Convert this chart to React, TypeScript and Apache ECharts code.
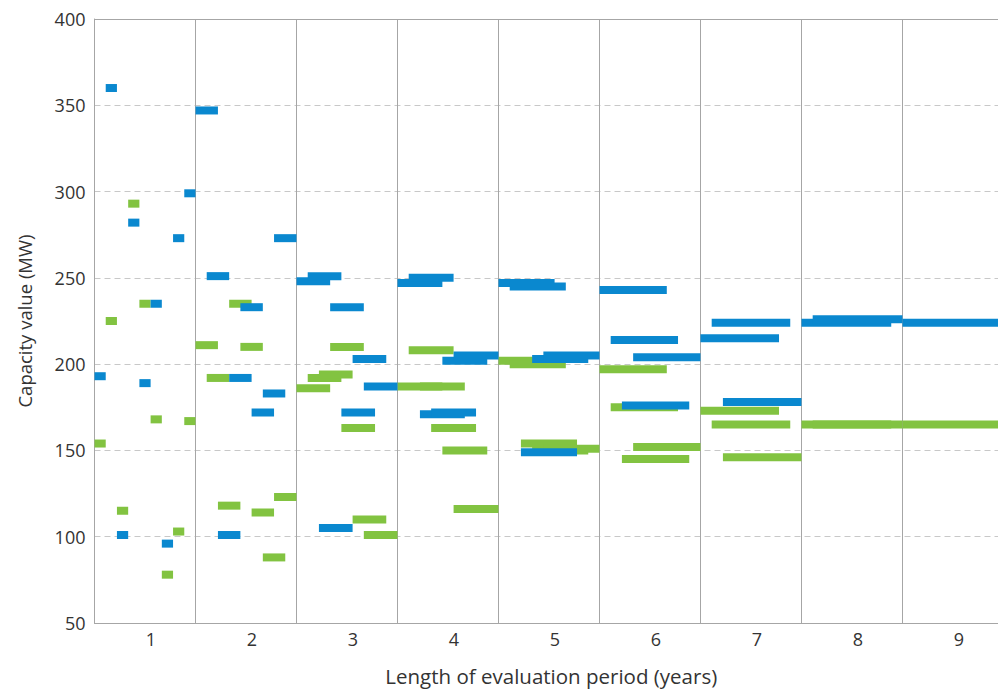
import React, { useEffect, useRef } from "react";
import * as echarts from "echarts";

const periodLabels = ["1", "2", "3", "4", "5", "6", "7", "8", "9"];
const yTicks = { min: 50, max: 400, interval: 50 };

// Blue series: one array per evaluation-period length, windows in order
const blue1 = [193, 360, 101, 282, 189, 235, 96, 273, 299];
const blue2 = [347, 251, 101, 192, 233, 172, 183, 273];
const blue3 = [248, 251, 105, 233, 172, 203, 187];
const blue4 = [247, 250, 171, 172, 202, 205];
const blue5 = [247, 245, 149, 203, 205];
const blue6 = [243, 214, 176, 204];
const blue7 = [215, 224, 178];
const blue8 = [224, 226];
const blue9 = [224];

// Green series
const green1 = [154, 225, 115, 293, 235, 168, 78, 103, 167];
const green2 = [211, 192, 118, 235, 210, 114, 88, 123];
const green3 = [186, 192, 194, 210, 163, 110, 101];
const green4 = [187, 208, 187, 163, 150, 116];
const green5 = [202, 200, 154, 150, 151];
const green6 = [197, 175, 145, 152];
const green7 = [173, 165, 146];
const green8 = [165, 165];
const green9 = [165];

const blueRows = [blue1, blue2, blue3, blue4, blue5, blue6, blue7, blue8, blue9];
const greenRows = [green1, green2, green3, green4, green5, green6, green7, green8, green9];

const TOTAL_YEARS = 9;
// the original figure is cropped slightly before the end of the 9th column
const X_VISIBLE_MAX = 8.946;

function buildSegments(rows: number[][]) {
  const out: number[][] = [];
  rows.forEach((vals, idx) => {
    const len = idx + 1;
    vals.forEach((v, i) => {
      const x0 = idx + i / TOTAL_YEARS;
      out.push([x0, x0 + len / TOTAL_YEARS, v]);
    });
  });
  return out;
}

const FONT = "'Open Sans', 'Noto Sans', sans-serif";
const TEXT = "#333333";
const LINE = "#a6a6a6";

function segSeries(name: string, rows: number[][], color: string) {
  return {
    type: "custom",
    name,
    xAxisIndex: 0,
    yAxisIndex: 0,
    encode: { x: [0, 1], y: 2 },
    data: buildSegments(rows),
    renderItem: (_params: any, api: any) => {
      const s = api.coord([api.value(0), api.value(2)]);
      const e = api.coord([api.value(1), api.value(2)]);
      return {
        type: "rect",
        shape: { x: s[0], y: s[1] - 4, width: e[0] - s[0], height: 8 },
        style: { fill: color },
      };
    },
  };
}

function periodLabel(v: number) {
  const frac = v - Math.floor(v);
  if (Math.abs(frac - 0.5) < 1e-6) {
    const idx = Math.floor(v);
    return periodLabels[idx] ?? "";
  }
  return "";
}

export default function App() {
  const ref = useRef<HTMLDivElement>(null);
  useEffect(() => {
    if (!ref.current) return;
    const chart = echarts.init(ref.current, undefined, { renderer: "svg" });
    chart.setOption({
      animation: false,
      backgroundColor: "#ffffff",
      grid: { left: 94.5, right: 0, top: 19, bottom: 63, containLabel: false },
      xAxis: [
        {
          type: "value",
          min: 0,
          max: X_VISIBLE_MAX,
          interval: 0.5,
          position: "bottom",
          axisLine: { show: true, lineStyle: { color: LINE, width: 1 } },
          axisTick: { show: false },
          axisLabel: {
            color: TEXT,
            fontSize: 18,
            fontFamily: FONT,
            margin: 7,
            padding: [0, 0, 0, 12],
            showMinLabel: false,
            showMaxLabel: false,
            formatter: periodLabel,
          },
          splitLine: { show: false },
          name: "Length of evaluation period (years)",
          nameLocation: "middle",
          nameGap: 42,
          nameTextStyle: { color: TEXT, fontSize: 20.5, fontFamily: FONT, padding: [0, 0, 0, 10] },
        },
        {
          type: "value",
          min: 0,
          max: X_VISIBLE_MAX,
          interval: 1,
          position: "bottom",
          axisLine: { show: false },
          axisTick: { show: false },
          axisLabel: { show: false },
          splitLine: { show: true, lineStyle: { color: LINE, width: 1, type: "solid" } },
        },
        {
          type: "value",
          min: 0,
          max: X_VISIBLE_MAX,
          position: "top",
          axisLine: { show: true, lineStyle: { color: LINE, width: 1 } },
          axisTick: { show: false },
          axisLabel: { show: false },
          splitLine: { show: false },
        },
      ],
      yAxis: {
        type: "value",
        min: yTicks.min,
        max: yTicks.max,
        interval: yTicks.interval,
        axisLine: { show: true, lineStyle: { color: LINE, width: 1 } },
        axisTick: { show: false },
        axisLabel: { color: TEXT, fontSize: 18, fontFamily: FONT, margin: 9 },
        splitLine: { show: true, lineStyle: { color: "#c8c8c8", type: [6, 4], width: 1 } },
        name: "Capacity value (MW)",
        nameLocation: "middle",
        nameGap: 61,
        nameTextStyle: { color: TEXT, fontSize: 18.5, fontFamily: FONT },
      },
      series: [
        segSeries("Green", greenRows, "#82c341"),
        segSeries("Blue", blueRows, "#0a88cf"),
      ],
    });
    return () => chart.dispose();
  }, []);
  return (
    <div
      ref={ref}
      style={{ position: "fixed", left: 0, top: 0, width: 998, height: 691, background: "#fff" }}
    />
  );
}
